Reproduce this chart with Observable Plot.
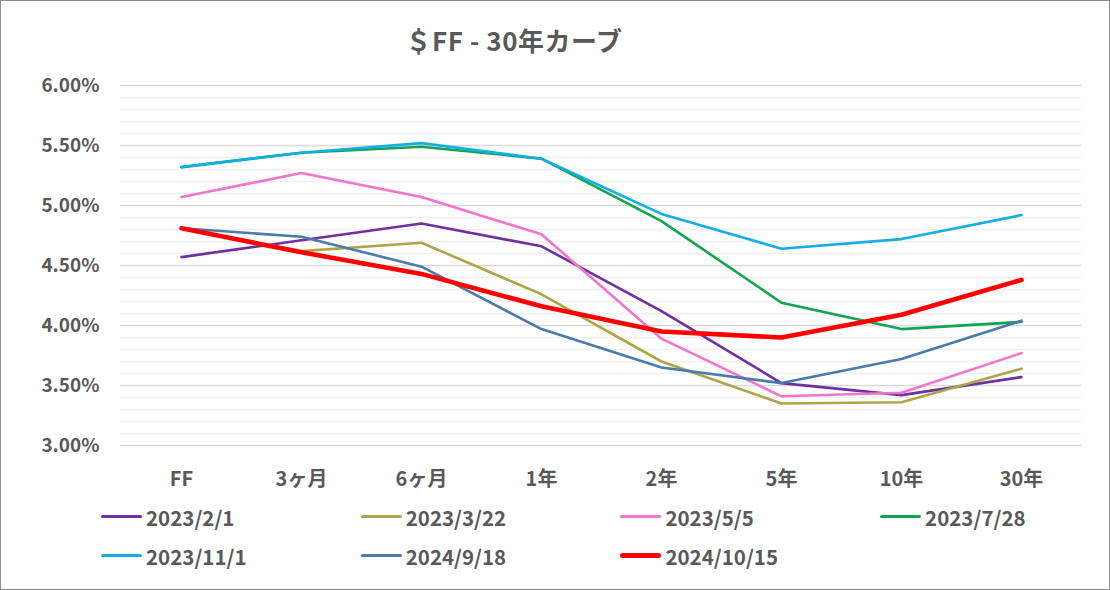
<!DOCTYPE html>
<html>
<head>
<meta charset="utf-8">
<script src="https://cdn.jsdelivr.net/npm/d3@7"></script>
<script src="https://cdn.jsdelivr.net/npm/@observablehq/plot@0.6"></script>
<style>
  html, body { margin: 0; padding: 0; background: #fff; }
  #chart {
    position: relative; width: 1110px; height: 590px; box-sizing: border-box;
    border: 1px solid #8c8c8c; background: #fff; overflow: hidden;
    font-family: "Noto Sans CJK JP", "Noto Sans", sans-serif; color: #595959;
  }
  #title {
    width: 1026px; height: 69px; box-sizing: border-box; padding-top: 24px;
    text-align: center; font-size: 26px; font-weight: bold; line-height: 30px; color: #595959;
    letter-spacing: 0.5px;
  }
  #legend {
    display: grid; grid-template-columns: repeat(4, 259.7px); grid-auto-rows: 39px;
    margin-left: 100px; margin-top: -3px;
    font-size: 20.5px; font-weight: bold; color: #595959;
  }
  .item { display: flex; align-items: center; }
  .sw { display: inline-block; width: 41px; margin-right: 4px; border-radius: 3px; }
</style>
</head>
<body>
<div id="chart">
  <div id="title">＄FF - 30年カーブ</div>
  <div id="plot"></div>
  <div id="legend"></div>
</div>
<script>
// ---- data ----
const categories = ["FF", "3ヶ月", "6ヶ月", "1年", "2年", "5年", "10年", "30年"];
const seriesNames = ["2023/2/1", "2023/3/22", "2023/5/5", "2023/7/28", "2023/11/1", "2024/9/18", "2024/10/15"];
const s20230201 = [4.57, 4.71, 4.85, 4.66, 4.12, 3.52, 3.42, 3.57];
const s20230322 = [4.81, 4.62, 4.69, 4.26, 3.70, 3.35, 3.36, 3.64];
const s20230505 = [5.07, 5.27, 5.07, 4.76, 3.89, 3.41, 3.44, 3.77];
const s20230728 = [5.32, 5.44, 5.49, 5.39, 4.87, 4.19, 3.97, 4.03];
const s20231101 = [5.32, 5.44, 5.52, 5.39, 4.93, 4.64, 4.72, 4.92];
const s20240918 = [4.81, 4.74, 4.49, 3.97, 3.65, 3.52, 3.72, 4.04];
const s20241015 = [4.81, 4.61, 4.43, 4.16, 3.95, 3.90, 4.09, 4.38];
const yTicks = [3.0, 3.5, 4.0, 4.5, 5.0, 5.5, 6.0];
const yMinorTicks = [3.1,3.2,3.3,3.4,3.6,3.7,3.8,3.9,4.1,4.2,4.3,4.4,4.6,4.7,4.8,4.9,5.1,5.2,5.3,5.4,5.6,5.7,5.8,5.9];

// ---- styles ----
const seriesColors = ["#7030A0", "#ADA648", "#F274CB", "#0FA650", "#13AEE6", "#4B7BAA", "#FF0000"];
const seriesWidths = [2.6, 2.6, 2.6, 2.6, 2.6, 2.6, 4.6];

const allSeries = [s20230201, s20230322, s20230505, s20230728, s20231101, s20240918, s20241015];
const font = '"Noto Sans CJK JP", "Noto Sans", sans-serif';

const lineMarks = allSeries.map((vals, i) =>
  Plot.line(categories.map((c, j) => ({cat: c, v: vals[j]})), {
    x: "cat", y: "v", stroke: seriesColors[i], strokeWidth: seriesWidths[i],
    strokeLinejoin: "round", strokeLinecap: "round"
  })
);

const chart = Plot.plot({
  width: 1108,
  height: 430,
  marginLeft: 119,
  marginRight: 28,
  marginTop: 15,
  marginBottom: 55,
  style: {fontFamily: font, color: "#595959", background: "#fff", overflow: "visible"},
  x: {type: "point", domain: categories, padding: 0.5, axis: null},
  y: {domain: [3, 6], axis: null},
  marks: [
    Plot.ruleY(yMinorTicks, {stroke: "#f0f0f0", strokeWidth: 1.5}),
    Plot.ruleY(yTicks, {stroke: "#d9d9d9", strokeWidth: 1.5}),
    Plot.axisY(yTicks, {
      anchor: "left", tickSize: 0, tickPadding: 21, label: null,
      tickFormat: d => d.toFixed(2) + "%", fontSize: 19, fontWeight: "bold", fill: "#595959"
    }),
    ...lineMarks,
    Plot.text(categories, {
      x: d => d, y: () => 3, text: d => d, dy: 34, lineAnchor: "middle",
      fontSize: 20, fontWeight: "bold", fill: "#595959"
    })
  ]
});
document.getElementById("plot").appendChild(chart);

// ---- legend ----
const legend = document.getElementById("legend");
seriesNames.forEach((name, i) => {
  const item = document.createElement("div");
  item.className = "item";
  const sw = document.createElement("span");
  sw.className = "sw";
  sw.style.height = (i === 6 ? 5 : 3) + "px";
  sw.style.background = seriesColors[i];
  const label = document.createElement("span");
  label.textContent = name;
  item.appendChild(sw);
  item.appendChild(label);
  legend.appendChild(item);
});
</script>
</body>
</html>
